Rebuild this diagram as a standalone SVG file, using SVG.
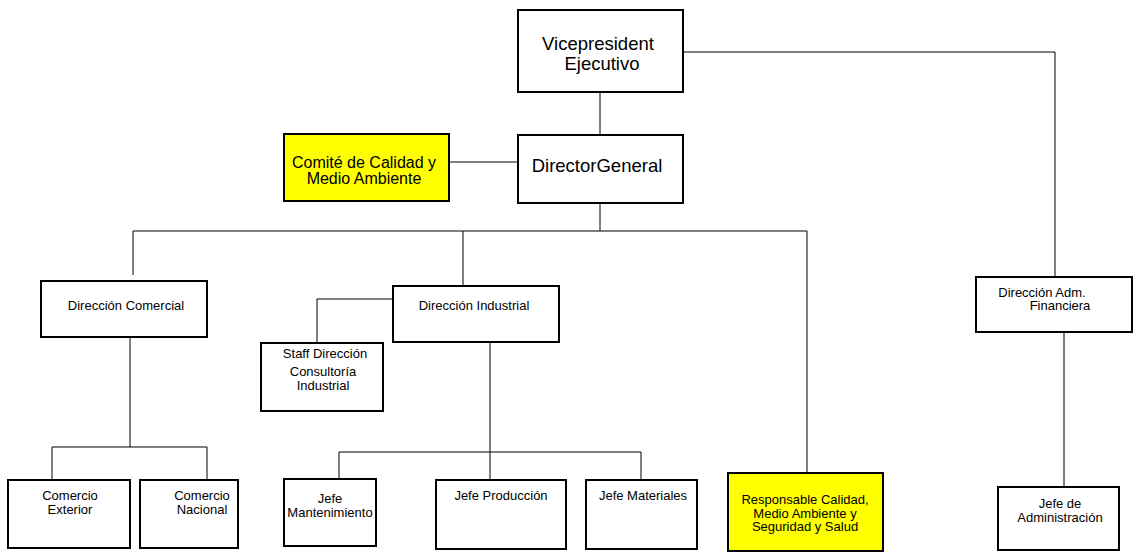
<svg xmlns="http://www.w3.org/2000/svg" width="1133" height="552" viewBox="0 0 1133 552">
<style>
.box{fill:#fff;stroke:#000;stroke-width:2}
.yel{fill:#ffff00;stroke:#000;stroke-width:2}
.c{fill:none;stroke:#000;stroke-width:1}
text{font-family:"Liberation Sans",Arial,sans-serif;fill:#000;text-anchor:middle}
.big{font-size:18.5px}
.mid{font-size:16px}
.sm{font-size:13px}
</style>
<rect width="1133" height="552" fill="#fff"/>
<g id="connectors">
<path class="c" d="M600 92V135"/>
<path class="c" d="M683 52H1055V277"/>
<path class="c" d="M449 162H518"/>
<path class="c" d="M600 203V231"/>
<path class="c" d="M133 231H807V473"/>
<path class="c" d="M133 231V275"/>
<path class="c" d="M463 231V286"/>
<path class="c" d="M393 299H317V343"/>
<path class="c" d="M130 337V447"/>
<path class="c" d="M52 480V447H207V480"/>
<path class="c" d="M490 342V480"/>
<path class="c" d="M339 479V452H641V480"/>
<path class="c" d="M1064 332V487"/>
</g>
<g id="vp"><rect class="box" x="518" y="10" width="165" height="82"/><text class="big" x="598" y="50">Vicepresident</text><text class="big" x="602" y="70">Ejecutivo</text></g>
<g id="dg"><rect class="box" x="518" y="135" width="165" height="68"/><text class="big" x="597" y="172">DirectorGeneral</text></g>
<g id="comite"><rect class="yel" x="284" y="134" width="165" height="67"/><text class="mid" x="364" y="168">Comité de Calidad y</text><text class="mid" x="364" y="184">Medio Ambiente</text></g>
<g id="dcom"><rect class="box" x="41" y="281" width="166" height="56"/><text class="sm" x="126" y="310">Dirección Comercial</text></g>
<g id="dind"><rect class="box" x="393" y="286" width="166" height="56"/><text class="sm" x="474" y="310">Dirección Industrial</text></g>
<g id="staff"><rect class="box" x="261" y="343" width="122" height="68"/><text class="sm" x="325" y="358">Staff Dirección</text><text class="sm" x="323" y="376">Consultoría</text><text class="sm" x="323" y="390">Industrial</text></g>
<g id="daf"><rect class="box" x="976" y="277" width="156" height="55"/><text class="sm" x="1042" y="297">Dirección Adm.</text><text class="sm" x="1060" y="310">Financiera</text></g>
<g id="cext"><rect class="box" x="8" y="480" width="122" height="68"/><text class="sm" x="70" y="500">Comercio</text><text class="sm" x="70" y="514">Exterior</text></g>
<g id="cnac"><rect class="box" x="140" y="480" width="98" height="68"/><text class="sm" x="202" y="500">Comercio</text><text class="sm" x="202" y="514">Nacional</text></g>
<g id="jman"><rect class="box" x="284" y="479" width="92" height="67"/><text class="sm" x="330" y="503">Jefe</text><text class="sm" x="330" y="517">Mantenimiento</text></g>
<g id="jpro"><rect class="box" x="436" y="480" width="130" height="69"/><text class="sm" x="501" y="500">Jefe Producción</text></g>
<g id="jmat"><rect class="box" x="586" y="480" width="111" height="69"/><text class="sm" x="643" y="500">Jefe Materiales</text></g>
<g id="resp"><rect class="yel" x="728" y="473" width="155" height="78"/><text class="sm" x="805" y="504">Responsable Calidad,</text><text class="sm" x="805" y="518">Medio Ambiente y</text><text class="sm" x="805" y="531">Seguridad y Salud</text></g>
<g id="jadm"><rect class="box" x="998" y="487" width="121" height="63"/><text class="sm" x="1060" y="508">Jefe de</text><text class="sm" x="1060" y="522">Administración</text></g>
</svg>
